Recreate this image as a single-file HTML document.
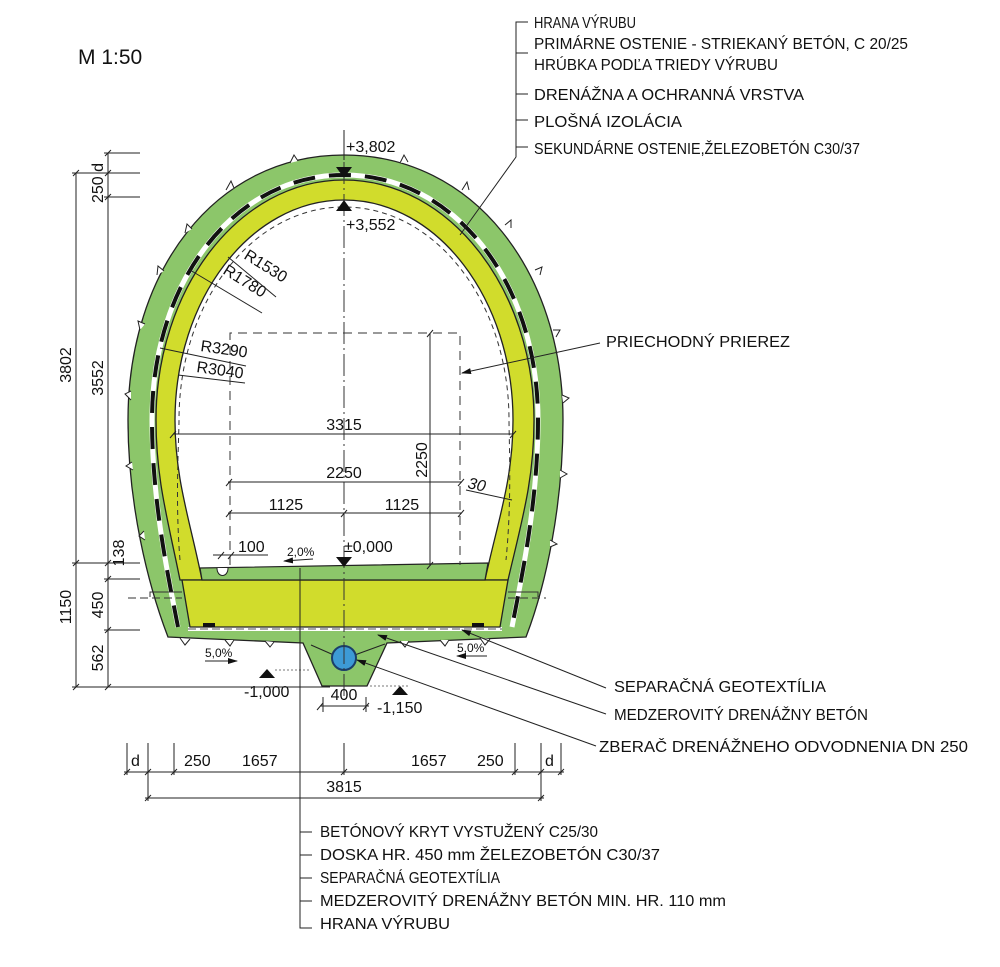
<!DOCTYPE html>
<html><head><meta charset="utf-8"><style>
html,body{margin:0;padding:0;background:#fff;}
svg{display:block;font-family:"Liberation Sans",Arial,sans-serif;}
</style></head><body>
<svg width="1000" height="967" viewBox="0 0 1000 967" xmlns="http://www.w3.org/2000/svg">
<defs>
<marker id="ar" markerWidth="10" markerHeight="8" refX="9" refY="4" orient="auto" markerUnits="userSpaceOnUse"><path d="M0,1 L10,4 L0,7 z" fill="#111"/></marker>
</defs>
<text x="78" y="64" font-size="21" fill="#111">M 1:50</text>

<!-- outer green -->
<path d="M344,155 C214,155 128,272 128,420 C128,505 148,585 168,637 L303,643 L322,686 L367,686 L387,643 L526,637 C546,585 563,505 563,420 C563,272 474,155 344,155 Z" fill="#8cc66a" stroke="#222" stroke-width="1.3"/>
<!-- teeth -->
<g fill="#fff" stroke="#222" stroke-width="1">
<path d="M226,190 l5,-9 l3,7"/><path d="M185,233 l2,-9 l5,5"/><path d="M157,275 l1,-9 l6,5"/><path d="M140,330 l-2,-9 l7,3"/><path d="M131,400 l-6,-6 l6,-3"/><path d="M133,470 l-7,-4 l6,-4"/><path d="M145,540 l-6,-4 l5,-5"/>
<path d="M290,163 l4,-8 l4,6"/><path d="M400,163 l4,-8 l4,7"/><path d="M462,190 l5,-8 l2,8"/><path d="M505,225 l6,-5 l0,8"/><path d="M535,270 l7,-3 l-2,8"/><path d="M553,330 l7,0 l-4,7"/><path d="M562,395 l7,3 l-6,5"/><path d="M560,470 l7,4 l-7,4"/><path d="M550,540 l7,4 l-7,3"/>
<path d="M180,638 l5,7 l5,-6"/><path d="M225,640 l5,6 l4,-6"/><path d="M265,641 l5,6 l4,-5"/><path d="M400,641 l5,6 l4,-6"/><path d="M440,640 l5,6 l4,-6"/><path d="M480,638 l5,7 l5,-6"/>
</g>
<!-- membrane -->
<path d="M178,627 C170,585 152,505 152,420 C152,280 235,175 344,175 C453,175 538,280 538,420 C538,505 520,585 512,627" fill="none" stroke="#fff" stroke-width="5"/>
<path d="M178,627 C170,585 152,505 152,420 C152,280 235,175 344,175 C453,175 538,280 538,420 C538,505 520,585 512,627" fill="none" stroke="#111" stroke-width="4" stroke-dasharray="22,14"/>
<line x1="188" y1="629" x2="502" y2="629" stroke="#fff" stroke-width="4"/>
<line x1="188" y1="629" x2="502" y2="629" stroke="#555" stroke-width="1" stroke-dasharray="8,4"/>
<!-- white interior -->
<path d="M202,580 C190,520 175,480 175,420 C175,300 250,200 344,200 C438,200 513,300 513,420 C513,480 498,520 485,580 Z" fill="#fff"/>
<!-- yellow lining -->
<path d="M180,580 C168,520 156,480 156,420 C156,290 238,180 344,180 C450,180 534,290 534,420 C534,480 522,520 508,580 L485,580 C498,520 513,480 513,420 C513,300 438,200 344,200 C250,200 175,300 175,420 C175,480 190,520 202,580 Z" fill="#d1dc2c" stroke="#222" stroke-width="1.3"/>
<!-- slab -->
<path d="M182,580 L508,580 L500,627 L190,627 Z" fill="#d1dc2c" stroke="#222" stroke-width="1.3"/>
<rect x="203" y="623" width="12" height="4" fill="#111"/><rect x="472" y="623" width="12" height="4" fill="#111"/>
<!-- green floor -->
<path d="M202,580 L200,568 L488,563 L485,580 Z" fill="#8cc66a" stroke="#222" stroke-width="1.2"/>
<path d="M217,568 C217,578 228,578 228,568" fill="#fff" stroke="#222"/>
<!-- dashed clearance -->
<path d="M180,560 C175,500 179,440 179,420 C179,302 252,207 344,207 C436,207 509,302 509,420 C509,440 512,500 506,560" fill="none" stroke="#333" stroke-width="1" stroke-dasharray="5,4"/>
<path d="M230,565 L230,333 L460,333 L460,565" fill="none" stroke="#333" stroke-width="1" stroke-dasharray="9,6"/>
<!-- pipe -->
<line x1="311" y1="645" x2="336" y2="656" stroke="#222"/><line x1="352" y1="656" x2="385" y2="644" stroke="#222"/>
<circle cx="344" cy="658" r="12" fill="#3d9ad6" stroke="#1b3e6a" stroke-width="2"/>
<!-- centerline -->
<line x1="344" y1="130" x2="344" y2="700" stroke="#333" stroke-width="1" stroke-dasharray="22,4,2,4"/>
<line x1="344" y1="130" x2="344" y2="160" stroke="#222"/>
<!-- elevation marks -->
<path d="M336,167 L352,167 L344,178 Z" fill="#111"/>
<path d="M336,211 L352,211 L344,200 Z" fill="#111"/>
<path d="M336,557 L352,557 L344,567 Z" fill="#111"/>
<path d="M259,678 L275,678 L267,669 Z" fill="#111"/>
<path d="M392,695 L408,695 L400,686 Z" fill="#111"/>
<line x1="275" y1="670" x2="310" y2="670" stroke="#777" stroke-dasharray="2,2"/>
<line x1="370" y1="686" x2="410" y2="686" stroke="#777" stroke-dasharray="2,2"/>
<g font-size="16" fill="#111">
<text x="346" y="152">+3,802</text>
<text x="346" y="230">+3,552</text>
<text x="244" y="697">-1,000</text>
<text x="377" y="713">-1,150</text>
<text x="344" y="430" text-anchor="middle">3315</text>
<text x="344" y="478" text-anchor="middle">2250</text>
<text x="286" y="510" text-anchor="middle">1125</text>
<text x="402" y="510" text-anchor="middle">1125</text>
<text x="238" y="552">100</text>
<text x="344" y="552">±0,000</text>
<text x="344" y="700" text-anchor="middle">400</text>
<text x="467" y="488" font-style="italic" transform="rotate(12 467 488)">30</text>
<text transform="translate(427,460) rotate(-90)" text-anchor="middle">2250</text>
<text transform="translate(243,258) rotate(32)">R1530</text>
<text transform="translate(222,273) rotate(32)">R1780</text>
<text transform="translate(200,351) rotate(8)">R3290</text>
<text transform="translate(196,372) rotate(8)">R3040</text>
</g>
<g font-size="12" fill="#111">
<text x="287" y="556">2,0%</text>
<text x="205" y="657">5,0%</text>
<text x="457" y="652">5,0%</text>
</g>
<g stroke="#222" stroke-width="1" fill="none">
<line x1="285" y1="561" x2="314" y2="559" marker-end="url(#ar)" transform="rotate(180 299 560)"/>
<line x1="205" y1="661" x2="237" y2="661" marker-end="url(#ar)"/>
<line x1="487" y1="656" x2="457" y2="656" marker-end="url(#ar)"/>
<line x1="173" y1="434" x2="513" y2="434"/>
<line x1="228" y1="482" x2="462" y2="482"/>
<line x1="228" y1="513" x2="462" y2="513"/>
<line x1="213" y1="555" x2="268" y2="555"/>
<line x1="430" y1="333" x2="430" y2="566"/>
<line x1="466" y1="490" x2="512" y2="500"/>
<line x1="323" y1="697" x2="323" y2="712"/><line x1="366" y1="697" x2="366" y2="712"/><line x1="320" y1="706" x2="369" y2="706"/>
<line x1="228" y1="257" x2="276" y2="297"/><line x1="190" y1="270" x2="262" y2="313"/>
<line x1="160" y1="348" x2="246" y2="366"/><line x1="178" y1="375" x2="245" y2="383"/>
</g>
<g stroke="#222" stroke-width="1">
<path d="M170,438 l6,-7 M226,486 l6,-7 M458,486 l6,-7 M226,517 l6,-7 M341,517 l6,-7 M458,517 l6,-7 M427,337 l6,-7 M427,569 l6,-7 M510,438 l6,-7 M317,710 l6,-7 M363,710 l6,-7 M218,559 l6,-7 M228,559 l6,-7"/>
</g>
<path d="M150,597 L150,592 L182,592 M538,597 L538,592 L508,592" stroke="#333" fill="none"/>
<line x1="128" y1="598" x2="182" y2="598" stroke="#333" stroke-dasharray="8,4"/>
<line x1="508" y1="598" x2="546" y2="598" stroke="#333" stroke-dasharray="8,4"/>

<!-- left dims -->
<g stroke="#222" stroke-width="1" fill="none">
<line x1="76" y1="173" x2="76" y2="687"/>
<line x1="108" y1="153" x2="108" y2="687"/>
<line x1="72" y1="173" x2="140" y2="173"/>
<line x1="104" y1="153" x2="140" y2="153"/>
<line x1="104" y1="197" x2="140" y2="197"/>
<line x1="72" y1="563" x2="140" y2="563"/>
<line x1="104" y1="579" x2="140" y2="579"/>
<line x1="104" y1="630" x2="140" y2="630"/>
<line x1="72" y1="687" x2="330" y2="687"/>
<path d="M73,176 l6,-6 M105,156 l6,-6 M105,176 l6,-6 M105,200 l6,-6 M73,566 l6,-6 M105,566 l6,-6 M105,582 l6,-6 M105,633 l6,-6 M73,690 l6,-6 M105,690 l6,-6"/>
</g>
<g font-size="16" fill="#111">
<text transform="translate(71,365) rotate(-90)" text-anchor="middle">3802</text>
<text transform="translate(103,378) rotate(-90)" text-anchor="middle">3552</text>
<text transform="translate(103,183) rotate(-90)" text-anchor="middle">250 d</text>
<text transform="translate(124,553) rotate(-90)" text-anchor="middle">138</text>
<text transform="translate(103,605) rotate(-90)" text-anchor="middle">450</text>
<text transform="translate(71,607) rotate(-90)" text-anchor="middle">1150</text>
<text transform="translate(103,658) rotate(-90)" text-anchor="middle">562</text>
</g>

<!-- bottom dims -->
<g stroke="#222" stroke-width="1" fill="none">
<line x1="124" y1="772" x2="564" y2="772"/>
<line x1="145" y1="798" x2="544" y2="798"/>
<line x1="127" y1="743" x2="127" y2="775"/><line x1="148" y1="743" x2="148" y2="801"/><line x1="174" y1="743" x2="174" y2="775"/>
<line x1="344" y1="743" x2="344" y2="775"/><line x1="515" y1="743" x2="515" y2="775"/><line x1="541" y1="743" x2="541" y2="801"/><line x1="561" y1="743" x2="561" y2="775"/>
<path d="M124,775 l6,-6 M145,775 l6,-6 M171,775 l6,-6 M341,775 l6,-6 M512,775 l6,-6 M538,775 l6,-6 M558,775 l6,-6 M145,801 l6,-6 M538,801 l6,-6"/>
</g>
<g font-size="16" fill="#111">
<text x="131" y="766">d</text><text x="184" y="766">250</text><text x="242" y="766">1657</text>
<text x="411" y="766">1657</text><text x="477" y="766">250</text><text x="545" y="766">d</text>
<text x="344" y="792" text-anchor="middle">3815</text>
</g>

<!-- labels -->
<g stroke="#222" stroke-width="1" fill="none">
<path d="M528,22 L516,22 L516,157 L460,235"/>
<path d="M516,53 L528,53 M516,94 L528,94 M516,120 L528,120 M516,147 L528,147"/>
<line x1="600" y1="343" x2="462" y2="373" marker-end="url(#ar)"/>
<line x1="606" y1="688" x2="462" y2="630" marker-end="url(#ar)"/>
<line x1="606" y1="714" x2="378" y2="635" marker-end="url(#ar)"/>
<line x1="596" y1="746" x2="357" y2="660" marker-end="url(#ar)"/>
<path d="M300,568 L300,928 L312,928 M300,832 L312,832 M300,855 L312,855 M300,878 L312,878 M300,901 L312,901"/>
</g>
<g font-size="16" fill="#111">
<text x="534" y="28" textLength="102" lengthAdjust="spacingAndGlyphs">HRANA VÝRUBU</text>
<text x="534" y="49" textLength="374" lengthAdjust="spacingAndGlyphs">PRIMÁRNE OSTENIE - STRIEKANÝ BETÓN, C 20/25</text>
<text x="534" y="70" textLength="244" lengthAdjust="spacingAndGlyphs">HRÚBKA PODĽA TRIEDY VÝRUBU</text>
<text x="534" y="100" textLength="270" lengthAdjust="spacingAndGlyphs">DRENÁŽNA A OCHRANNÁ VRSTVA</text>
<text x="534" y="127" textLength="148" lengthAdjust="spacingAndGlyphs">PLOŠNÁ IZOLÁCIA</text>
<text x="534" y="154" textLength="326" lengthAdjust="spacingAndGlyphs">SEKUNDÁRNE OSTENIE,ŽELEZOBETÓN C30/37</text>
<text x="606" y="347" textLength="184" lengthAdjust="spacingAndGlyphs">PRIECHODNÝ PRIEREZ</text>
<text x="614" y="692" textLength="212" lengthAdjust="spacingAndGlyphs">SEPARAČNÁ GEOTEXTÍLIA</text>
<text x="614" y="720" textLength="254" lengthAdjust="spacingAndGlyphs">MEDZEROVITÝ DRENÁŽNY BETÓN</text>
<text x="599" y="752" textLength="369" lengthAdjust="spacingAndGlyphs">ZBERAČ DRENÁŽNEHO ODVODNENIA DN 250</text>
<text x="320" y="837" textLength="278" lengthAdjust="spacingAndGlyphs">BETÓNOVÝ KRYT VYSTUŽENÝ C25/30</text>
<text x="320" y="860" textLength="340" lengthAdjust="spacingAndGlyphs">DOSKA HR. 450 mm  ŽELEZOBETÓN C30/37</text>
<text x="320" y="883" textLength="180" lengthAdjust="spacingAndGlyphs">SEPARAČNÁ GEOTEXTÍLIA</text>
<text x="320" y="906" textLength="406" lengthAdjust="spacingAndGlyphs">MEDZEROVITÝ DRENÁŽNY BETÓN MIN. HR. 110 mm</text>
<text x="320" y="929" textLength="130" lengthAdjust="spacingAndGlyphs">HRANA VÝRUBU</text>
</g>
</svg>
</body></html>
